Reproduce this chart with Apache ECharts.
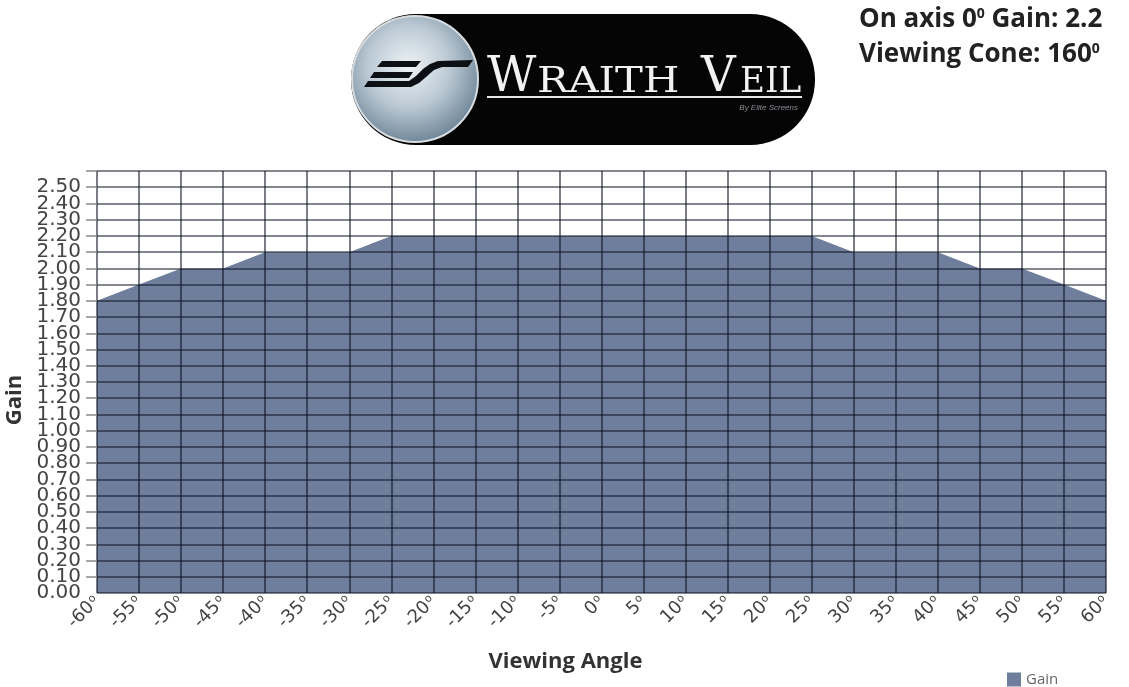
<!DOCTYPE html>
<html>
<head>
<meta charset="UTF-8">
<title>Wraith Veil gain chart</title>
<script src="https://cdn.jsdelivr.net/npm/echarts@6.0.0/dist/echarts.min.js"></script>
<style>
  html, body { margin: 0; padding: 0; background: #fff; }
  #chart { width: 1129px; height: 687px; }
</style>
</head>
<body>
<div id="chart"></div>
<script>
// viewing angle (degrees) and measured gain
const angles = ['-60', '-55', '-50', '-45', '-40', '-35', '-30', '-25', '-20', '-15', '-10', '-5', '0',
                '5', '10', '15', '20', '25', '30', '35', '40', '45', '50', '55', '60'];
const gain = [1.8, 1.9, 2.0, 2.0, 2.1, 2.1, 2.1, 2.2, 2.2, 2.2, 2.2, 2.2, 2.2,
              2.2, 2.2, 2.2, 2.2, 2.2, 2.1, 2.1, 2.1, 2.0, 2.0, 1.9, 1.8];
const gainMin = 0;
const gainMax = 2.6;
const gainStep = 0.1;

const AREA = '#6f7e9c';
const GRID_LINE = 'rgba(12,16,32,0.68)';
const FONT = '"Open Sans", "Noto Sans", sans-serif';
const TICK_FONT = '"DejaVu Sans", sans-serif';

const chart = echarts.init(document.getElementById('chart'));

// the "ES" mark inside the logo disc
const logoMark = [
  [[382, 61], [421, 61], [416, 67], [377, 67]],
  [[374, 72], [413, 72], [409, 78], [370, 78]],
  [[368, 81], [409, 81], [416, 76], [423, 69], [430, 64], [438, 61], [473, 60],
   [468, 67], [442, 67], [434, 70], [426, 77], [419, 83], [411, 87], [364, 87]]
];

const noteRich = {
  t: { fontSize: 26, fontWeight: 'bold', fill: '#222', fontFamily: FONT },
  s: { fontSize: 14, fontWeight: 'bold', fill: '#222', fontFamily: FONT, verticalAlign: 'top', lineHeight: 14, padding: [0, 0, 10, 0] }
};

const yLabelStyle = { margin: 16, fontSize: 20, color: '#444', lineHeight: 13, fontFamily: TICK_FONT, hideOverlap: false };
const isMax = v => Math.abs(v - gainMax) < 1e-6;
const isMin = v => Math.abs(v - gainMin) < 1e-6;

const option = {
  animation: false,
  textStyle: { fontFamily: FONT },
  grid: { left: 97, right: 23, top: 171, bottom: 94, outerBoundsMode: 'none', containLabel: false },
  legend: {
    data: ['Gain'],
    left: 1002, top: 667,
    icon: 'rect', itemWidth: 14, itemHeight: 14, itemGap: 2,
    textStyle: { color: '#666', fontSize: 15, fontFamily: FONT }
  },
  xAxis: {
    type: 'category',
    data: angles,
    boundaryGap: false,
    z: 3,
    name: 'Viewing Angle',
    nameLocation: 'middle',
    nameGap: 58,
    nameTextStyle: { fontSize: 22, fontWeight: 'bold', color: '#333', padding: [0, 72, 0, 0] },
    axisLine: { show: false },
    axisTick: { show: false },
    axisLabel: {
      interval: 0, rotate: 45, margin: 6,
      formatter: v => '{n|' + v + '}{d|o}',
      rich: {
        n: { fontSize: 18, color: '#444', fontFamily: TICK_FONT },
        d: { fontSize: 11, color: '#444', fontFamily: TICK_FONT, verticalAlign: 'top', lineHeight: 11, padding: [0, 0, 7, 1] }
      }
    },
    splitLine: { show: true, interval: 0, lineStyle: { color: GRID_LINE, width: 1.6 } }
  },
  yAxis: [{
    // main axis: grid lines, ticks and the labels 0.10 .. 2.50
    type: 'value',
    min: gainMin, max: gainMax, interval: gainStep,
    z: 3,
    name: 'Gain',
    nameLocation: 'middle',
    nameGap: 66,
    nameTextStyle: { fontSize: 22, fontWeight: 'bold', color: '#333', padding: [0, 36, 0, 0] },
    axisLine: { show: false },
    axisTick: { show: true, length: 11, lineStyle: { color: '#888', width: 1.5 } },
    axisLabel: Object.assign({}, yLabelStyle, {
      showMinLabel: false,
      formatter: v => (isMax(v) || isMin(v) ? '' : v.toFixed(2))
    }),
    splitLine: { lineStyle: { color: GRID_LINE, width: 1.6 } }
  }, {
    // twin axis that only carries the 0.00 label (the main one drops it for overlap)
    type: 'value',
    position: 'left',
    min: gainMin, max: gainMax, interval: gainStep,
    z: 3,
    axisLine: { show: false },
    axisTick: { show: false },
    splitLine: { show: false },
    axisLabel: Object.assign({}, yLabelStyle, {
      showMinLabel: true,
      formatter: v => (isMin(v) ? v.toFixed(2) : '')
    })
  }],
  series: [{
    name: 'Gain',
    type: 'line',
    data: gain,
    yAxisIndex: 0,
    symbol: 'none',
    z: 2,
    itemStyle: { color: AREA },
    lineStyle: { width: 0, color: AREA },
    areaStyle: { color: AREA, opacity: 1 }
  }],
  graphic: [
    // logo pill
    { type: 'rect', shape: { x: 351, y: 14, width: 464, height: 131, r: 65 }, style: { fill: '#050505' }, z: 10 },
    {
      type: 'circle', shape: { cx: 415, cy: 79, r: 63 }, z: 11,
      style: {
        fill: new echarts.graphic.RadialGradient(0.45, 0.4, 0.7, [
          { offset: 0, color: '#eef3f6' },
          { offset: 0.45, color: '#bccad5' },
          { offset: 0.85, color: '#72889a' },
          { offset: 1, color: '#9aabb8' }
        ]),
        stroke: '#d8dde2', lineWidth: 2
      }
    }
  ].concat(logoMark.map(pts => ({
    type: 'polygon', z: 12, shape: { points: pts }, style: { fill: '#0c0f14' }
  }))).concat([
    { type: 'text', x: 487, y: 103, z: 12, style: { text: 'W', font: '48px "DejaVu Serif"', fill: '#f2f2f2', verticalAlign: 'bottom' } },
    { type: 'text', x: 537, y: 101, z: 12, scaleX: 1.16, style: { text: 'RAITH', font: '36px "DejaVu Serif"', fill: '#f2f2f2', verticalAlign: 'bottom' } },
    { type: 'text', x: 701, y: 103, z: 12, style: { text: 'V', font: '48px "DejaVu Serif"', fill: '#f2f2f2', verticalAlign: 'bottom' } },
    { type: 'text', x: 740, y: 101, z: 12, scaleX: 0.95, style: { text: 'EIL', font: '36px "DejaVu Serif"', fill: '#f2f2f2', verticalAlign: 'bottom' } },
    { type: 'rect', z: 12, shape: { x: 487, y: 96, width: 315, height: 2 }, style: { fill: '#e6e6e6' } },
    { type: 'text', x: 798, y: 108, z: 12, style: { text: 'By Elite Screens', font: 'italic 8px "Liberation Sans"', fill: '#8a8f96', align: 'right', verticalAlign: 'middle' } },
    // spec notes top right
    { type: 'text', x: 859, y: 20, z: 12, style: { text: '{t|On axis 0}{s|0}{t| Gain: 2.2}', verticalAlign: 'middle', rich: noteRich } },
    { type: 'text', x: 859, y: 55, z: 12, style: { text: '{t|Viewing Cone: 160}{s|0}', verticalAlign: 'middle', rich: noteRich } }
  ])
};

chart.setOption(option);
</script>
</body>
</html>
